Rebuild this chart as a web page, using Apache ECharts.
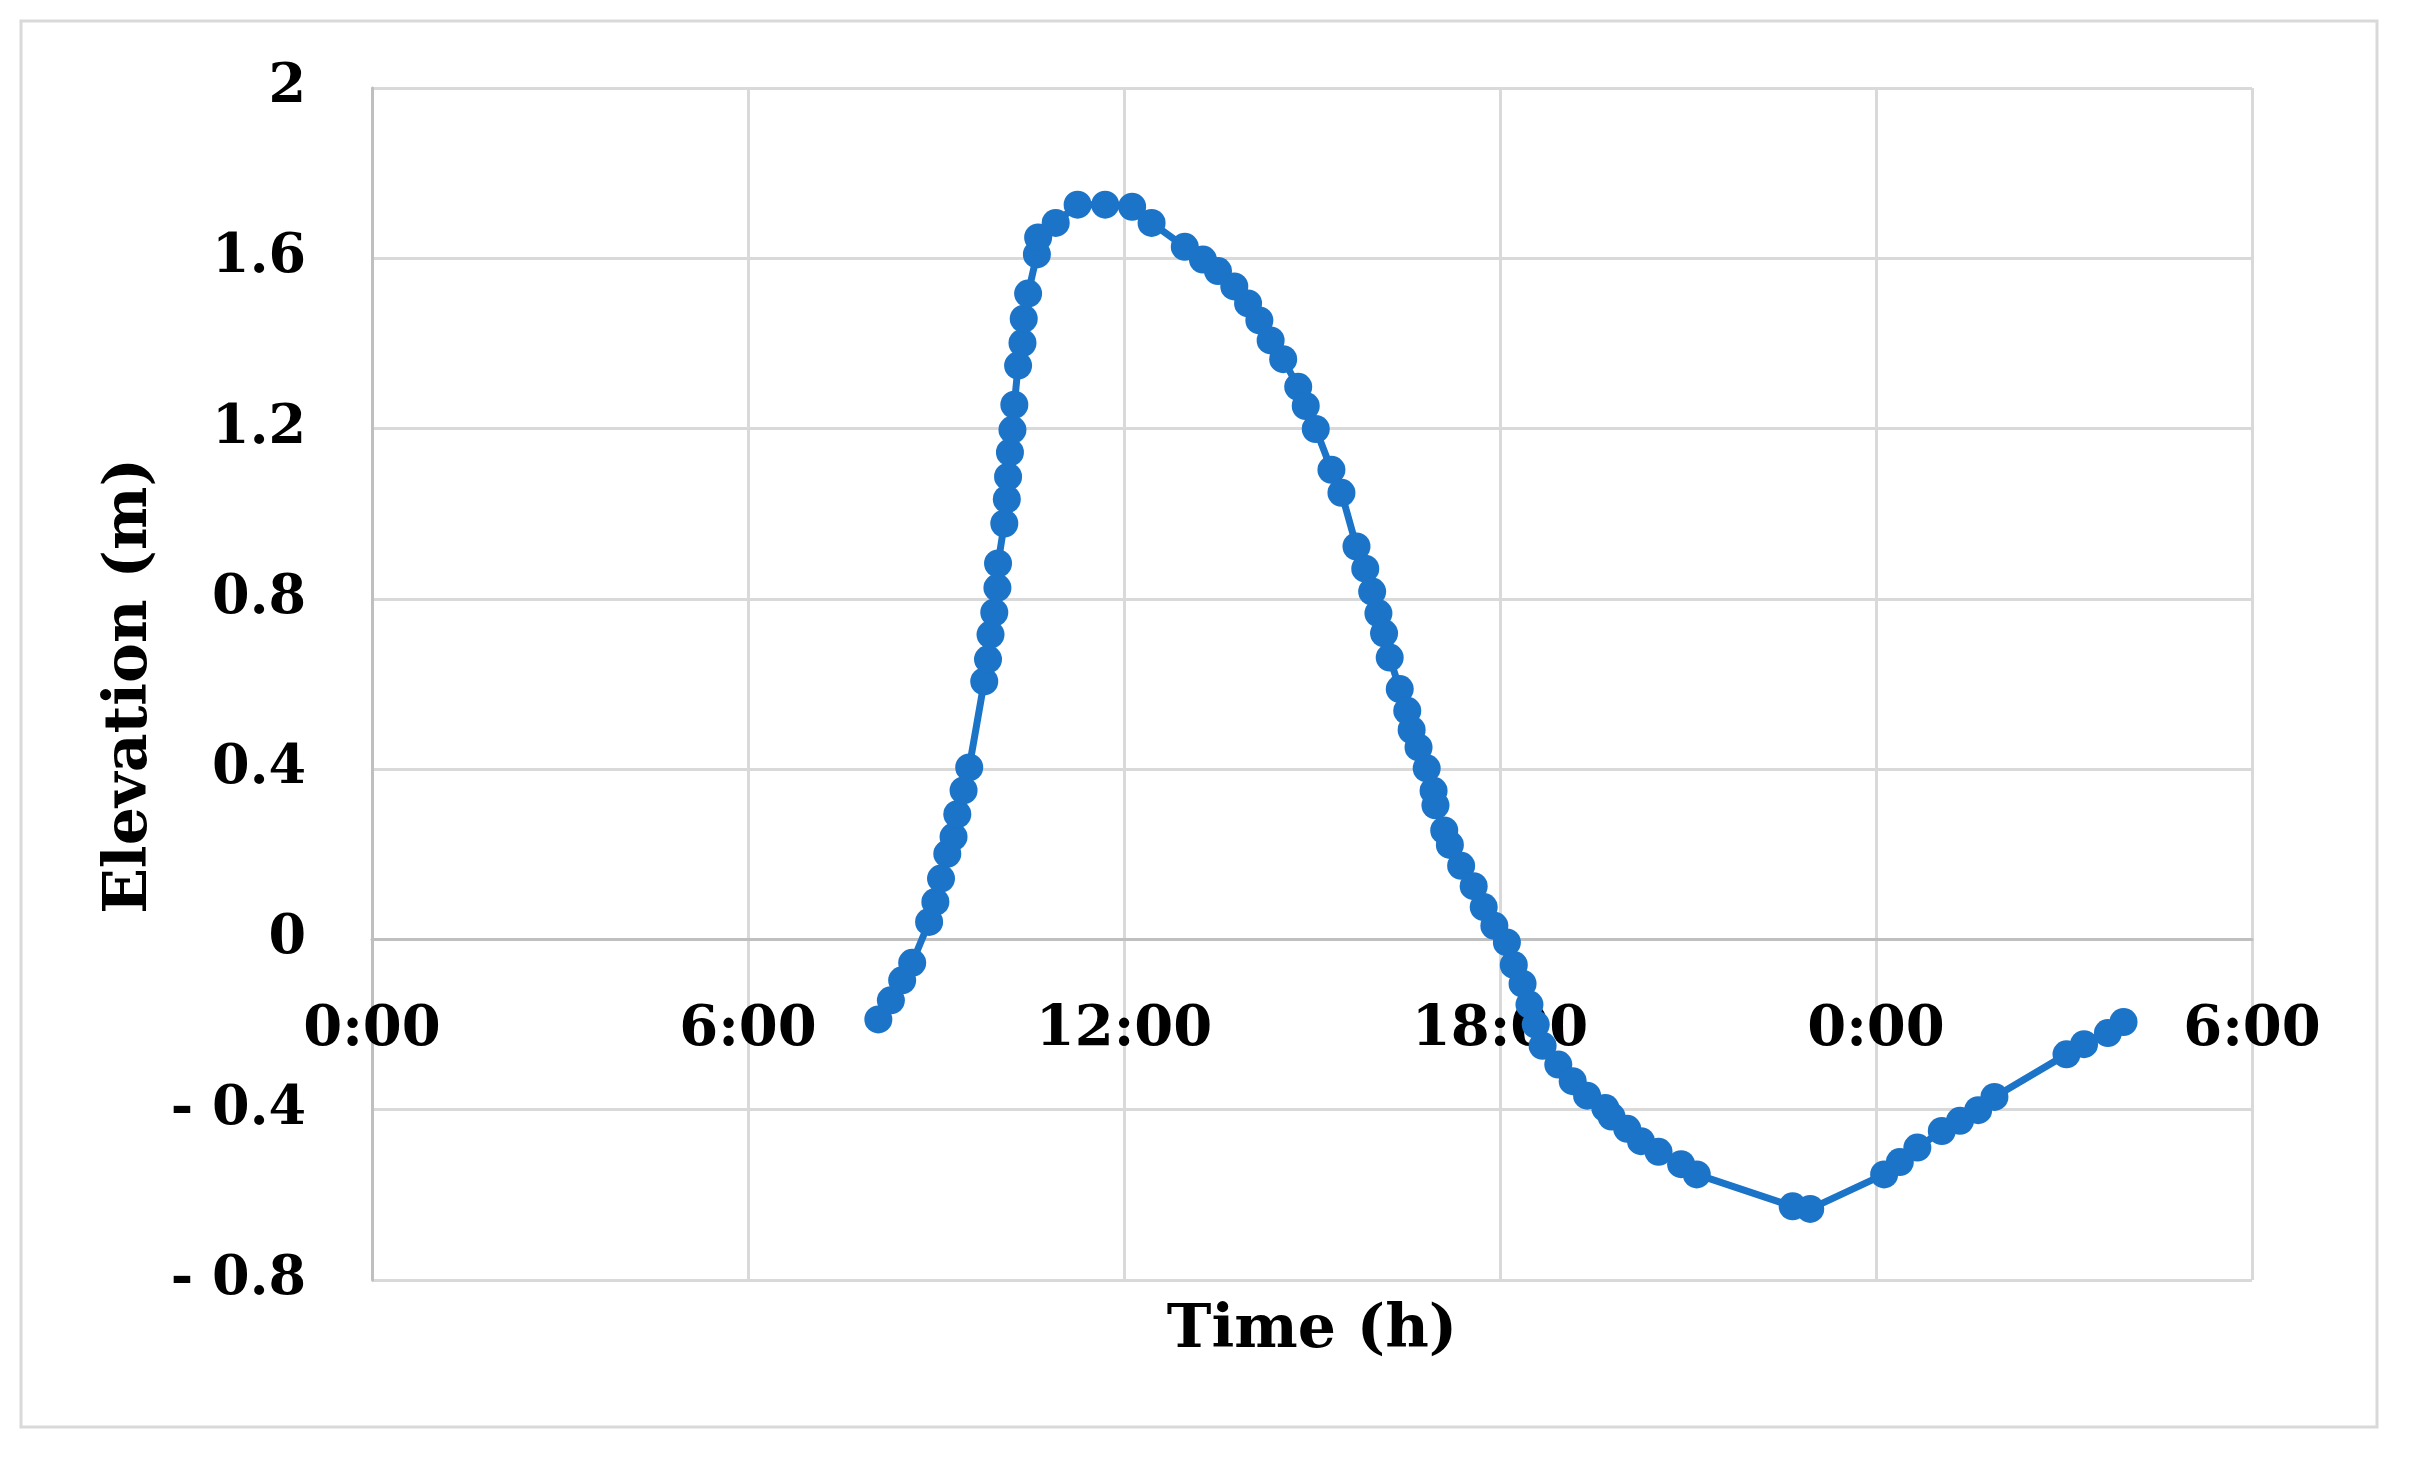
<!DOCTYPE html>
<html>
<head>
<meta charset="utf-8">
<script src="https://cdn.jsdelivr.net/npm/echarts@6/dist/echarts.min.js"></script>
<style>
  html, body { margin: 0; padding: 0; background: #ffffff; }
  #chart { width: 2409px; height: 1462px; }
</style>
</head>
<body>
<div id="chart"></div>
<script>
// Time in hours since 0:00 of day 1 (values > 24 belong to the next day)
const timeHours = [
  8.08, 8.28, 8.46, 8.62, 8.89, 8.99, 9.08, 9.18, 9.28, 9.34, 9.44, 9.53,
  9.77, 9.83, 9.87, 9.93, 9.98, 9.99, 10.09, 10.13, 10.15, 10.18, 10.22, 10.25,
  10.31, 10.38, 10.40, 10.47, 10.61, 10.63, 10.91, 11.26, 11.70, 12.13, 12.44, 12.97,
  13.26, 13.50, 13.76, 13.98, 14.16, 14.34, 14.54, 14.78, 14.90, 15.06, 15.31, 15.47,
  15.71, 15.85, 15.96, 16.06, 16.15, 16.24, 16.40, 16.52, 16.59, 16.70, 16.83, 16.94,
  16.97, 17.11, 17.20, 17.38, 17.58, 17.74, 17.91, 18.11, 18.22, 18.36, 18.47, 18.57,
  18.68, 18.93, 19.16, 19.39, 19.68, 19.78, 20.03, 20.25, 20.53, 20.89, 21.14, 22.67,
  22.95, 24.13, 24.38, 24.66, 25.05, 25.34, 25.63, 25.89, 27.04, 27.32, 27.70, 27.95
];
// Elevation (m)
const elevation = [
  -0.188, -0.143, -0.096, -0.055, 0.041, 0.088, 0.143, 0.201, 0.241, 0.294, 0.350, 0.404,
  0.606, 0.658, 0.716, 0.768, 0.826, 0.883, 0.977, 1.034, 1.087, 1.144, 1.197, 1.256,
  1.348, 1.401, 1.458, 1.517, 1.609, 1.649, 1.683, 1.726, 1.726, 1.721, 1.683, 1.627,
  1.597, 1.570, 1.534, 1.494, 1.454, 1.407, 1.363, 1.298, 1.253, 1.199, 1.103, 1.049,
  0.923, 0.871, 0.817, 0.766, 0.719, 0.662, 0.588, 0.537, 0.492, 0.451, 0.402, 0.349,
  0.315, 0.256, 0.222, 0.173, 0.125, 0.076, 0.032, -0.007, -0.060, -0.104, -0.153, -0.200,
  -0.250, -0.294, -0.333, -0.367, -0.396, -0.416, -0.445, -0.474, -0.499, -0.528, -0.552, -0.627,
  -0.633, -0.552, -0.523, -0.489, -0.450, -0.426, -0.401, -0.370, -0.270, -0.246, -0.220, -0.194
];
// Axis settings
const xMin = 0, xMax = 30, xStep = 6;
const yMin = -0.8, yMax = 2, yStep = 0.4;
const xTitle = 'Time (h)';
const yTitle = 'Elevation (m)';

const FONT = '"DejaVu Serif", serif';
const seriesData = timeHours.map((t, i) => [t, elevation[i]]);

// grid geometry
const G = { left: 372, right: 157, top: 88, bottom: 182 };
const plotH = 1462 - G.top - G.bottom;
// place the x axis (line + labels) at elevation 0, as in the source chart
const zeroOffset = -plotH * (0 - yMin) / (yMax - yMin);

const chart = echarts.init(document.getElementById('chart'), null, { renderer: 'canvas' });
chart.setOption({
  animation: false,
  backgroundColor: '#ffffff',
  grid: { left: G.left, right: G.right, top: G.top, bottom: G.bottom, containLabel: false, outerBoundsMode: 'none' },
  xAxis: {
    type: 'value', min: xMin, max: xMax, interval: xStep,
    position: 'bottom', offset: zeroOffset,
    axisLine: { show: true, onZero: false, lineStyle: { color: '#bfbfbf', width: 3 } },
    axisTick: { show: false },
    splitLine: { show: true, lineStyle: { color: '#d9d9d9', width: 3 } },
    axisLabel: {
      show: true, margin: 63, showMinLabel: true, showMaxLabel: true,
      color: '#000000', fontFamily: FONT, fontWeight: 'bold', fontSize: 56,
      formatter: v => (Math.round(v) % 24) + ':00'
    }
  },
  yAxis: {
    type: 'value', min: yMin, max: yMax, interval: yStep,
    axisLine: { show: true, onZero: false, lineStyle: { color: '#bfbfbf', width: 3 } },
    axisTick: { show: false },
    splitLine: { show: true, lineStyle: { color: '#d9d9d9', width: 3 } },
    axisLabel: {
      show: true, margin: 66, showMinLabel: true, showMaxLabel: true,
      color: '#000000', fontFamily: FONT, fontWeight: 'bold', fontSize: 54,
      formatter: v => {
        const n = Number(v.toFixed(1));
        return n < 0 ? '- ' + Math.abs(n) : String(n);
      }
    }
  },
  graphic: [
    {
      type: 'rect', silent: true, z: -10,
      shape: { x: 21, y: 21, width: 2356, height: 1406 },
      style: { fill: 'none', stroke: '#d9d9d9', lineWidth: 3 }
    },
    {
      type: 'text', x: 1312, y: 1331,
      style: { text: xTitle, font: 'bold 60px ' + FONT, fill: '#000000', align: 'center', verticalAlign: 'middle' }
    },
    {
      type: 'text', x: 130, y: 686, rotation: Math.PI / 2,
      style: { text: yTitle, font: 'bold 60px ' + FONT, fill: '#000000', align: 'center', verticalAlign: 'middle' }
    }
  ],
  series: [{
    type: 'line',
    data: seriesData,
    symbol: 'circle',
    symbolSize: 28,
    showSymbol: true,
    showAllSymbol: true,
    lineStyle: { color: '#1B74C8', width: 7 },
    itemStyle: { color: '#1B74C8', borderWidth: 0 },
    z: 5
  }]
});
</script>
</body>
</html>
